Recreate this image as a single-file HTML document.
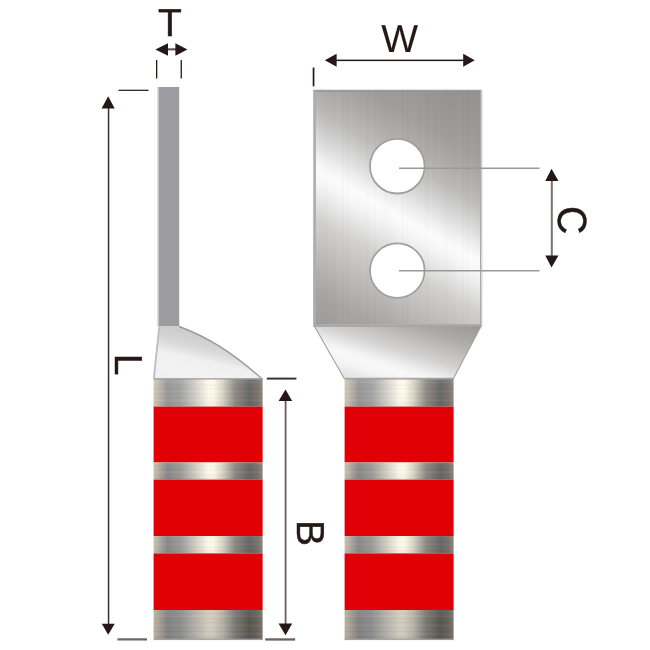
<!DOCTYPE html>
<html><head><meta charset="utf-8">
<style>
html,body{margin:0;padding:0;background:#fff;width:650px;height:650px;overflow:hidden}
svg{display:block}
text{font-family:"Liberation Sans",sans-serif;font-size:39px;fill:#231815;stroke:#231815;stroke-width:0.45px;-webkit-font-smoothing:antialiased;text-rendering:geometricPrecision}
svg{will-change:transform}
</style></head>
<body>
<svg width="650" height="650" viewBox="0 0 650 650">
<defs>
  <linearGradient id="metal" x1="0" y1="0" x2="1" y2="0">
    <stop offset="0.00" stop-color="#cfc6b4"/>
    <stop offset="0.03" stop-color="#c8c0b0"/>
    <stop offset="0.08" stop-color="#b0aaa6"/>
    <stop offset="0.13" stop-color="#9a9696"/>
    <stop offset="0.25" stop-color="#a4a4a4"/>
    <stop offset="0.38" stop-color="#d2cec6"/>
    <stop offset="0.50" stop-color="#fcf8ea"/>
    <stop offset="0.55" stop-color="#fcf8ea"/>
    <stop offset="0.63" stop-color="#dcd6c6"/>
    <stop offset="0.75" stop-color="#8e8b85"/>
    <stop offset="0.88" stop-color="#686868"/>
    <stop offset="0.95" stop-color="#7a7369"/>
    <stop offset="0.98" stop-color="#857f76"/>
    <stop offset="1.00" stop-color="#8c8882"/>
  </linearGradient>
  <linearGradient id="metal2" x1="0" y1="0" x2="1" y2="0">
    <stop offset="0.00" stop-color="#bab2a2"/>
    <stop offset="0.03" stop-color="#b0a99c"/>
    <stop offset="0.08" stop-color="#98948f"/>
    <stop offset="0.13" stop-color="#838282"/>
    <stop offset="0.25" stop-color="#8e8e8e"/>
    <stop offset="0.38" stop-color="#b4b0a8"/>
    <stop offset="0.50" stop-color="#d2cbbe"/>
    <stop offset="0.55" stop-color="#d0c9bc"/>
    <stop offset="0.63" stop-color="#b8b2a6"/>
    <stop offset="0.75" stop-color="#7a7872"/>
    <stop offset="0.88" stop-color="#575750"/>
    <stop offset="0.95" stop-color="#67625a"/>
    <stop offset="1.00" stop-color="#7a766e"/>
  </linearGradient>
  <linearGradient id="metal3" x1="0" y1="0" x2="1" y2="0">
    <stop offset="0.00" stop-color="#c8c0b0"/>
    <stop offset="0.03" stop-color="#bdb6a8"/>
    <stop offset="0.08" stop-color="#a09c98"/>
    <stop offset="0.13" stop-color="#8a8888"/>
    <stop offset="0.25" stop-color="#9d9b99"/>
    <stop offset="0.38" stop-color="#cfcbc2"/>
    <stop offset="0.50" stop-color="#fbf8e8"/>
    <stop offset="0.55" stop-color="#fbf8e8"/>
    <stop offset="0.63" stop-color="#dad4c4"/>
    <stop offset="0.75" stop-color="#8b8882"/>
    <stop offset="0.88" stop-color="#666666"/>
    <stop offset="0.95" stop-color="#777067"/>
    <stop offset="1.00" stop-color="#8a8680"/>
  </linearGradient>
  <linearGradient id="metalV" x1="0" y1="0" x2="0" y2="1">
    <stop offset="0" stop-color="#fff" stop-opacity="0.06"/>
    <stop offset="0.4" stop-color="#fff" stop-opacity="0"/>
    <stop offset="1" stop-color="#000" stop-opacity="0.04"/>
  </linearGradient>
  <linearGradient id="plate" gradientUnits="userSpaceOnUse" x1="471.3" y1="84.6" x2="327.7" y2="336.7">
    <stop offset="0.000" stop-color="#93918f"/>
    <stop offset="0.124" stop-color="#9a9896"/>
    <stop offset="0.203" stop-color="#a19f9d"/>
    <stop offset="0.276" stop-color="#adacab"/>
    <stop offset="0.348" stop-color="#bebdbc"/>
    <stop offset="0.438" stop-color="#e0e0e0"/>
    <stop offset="0.483" stop-color="#f2f2f2"/>
    <stop offset="0.517" stop-color="#fcfcfc"/>
    <stop offset="0.552" stop-color="#f7f7f7"/>
    <stop offset="0.590" stop-color="#ececec"/>
    <stop offset="0.672" stop-color="#d1d0cf"/>
    <stop offset="0.766" stop-color="#bebdbc"/>
    <stop offset="0.828" stop-color="#b1b0af"/>
    <stop offset="0.886" stop-color="#a7a5a3"/>
    <stop offset="1.000" stop-color="#9d9b99"/>
  </linearGradient>
  <linearGradient id="plateH" x1="0" y1="0" x2="1" y2="0">
    <stop offset="0" stop-color="#fff" stop-opacity="0.10"/>
    <stop offset="0.5" stop-color="#fff" stop-opacity="0"/>
    <stop offset="1" stop-color="#000" stop-opacity="0.04"/>
  </linearGradient>
  <linearGradient id="taper" gradientUnits="userSpaceOnUse" x1="480" y1="326" x2="451.4" y2="416.6">
    <stop offset="0.000" stop-color="#989694"/>
    <stop offset="0.065" stop-color="#a09e9c"/>
    <stop offset="0.215" stop-color="#acabaa"/>
    <stop offset="0.395" stop-color="#c6c5c4"/>
    <stop offset="0.490" stop-color="#d2d1d0"/>
    <stop offset="0.535" stop-color="#dadada"/>
    <stop offset="0.645" stop-color="#f1f1f1"/>
    <stop offset="0.710" stop-color="#f8f8f8"/>
    <stop offset="0.800" stop-color="#f4f4f4"/>
    <stop offset="0.890" stop-color="#e8e8e8"/>
    <stop offset="1.000" stop-color="#e1e1e1"/>
  </linearGradient>
  
  <linearGradient id="curve" gradientUnits="userSpaceOnUse" x1="180" y1="326" x2="167.5" y2="379.6">
    <stop offset="0.000" stop-color="#cacaca"/>
    <stop offset="0.220" stop-color="#d3d3d3"/>
    <stop offset="0.330" stop-color="#dadada"/>
    <stop offset="0.440" stop-color="#e6e6e6"/>
    <stop offset="0.510" stop-color="#efefef"/>
    <stop offset="0.600" stop-color="#f1f1f1"/>
    <stop offset="0.800" stop-color="#f2f2f2"/>
    <stop offset="1.000" stop-color="#f0f0f0"/>
  </linearGradient>
  <pattern id="vbrush" patternUnits="userSpaceOnUse" x="313.5" y="0" width="60" height="4">
    <rect x="0.00" y="0" width="0.92" height="4" fill="#000" opacity="0.012"/>
    <rect x="1.56" y="0" width="1.14" height="4" fill="#000" opacity="0.016"/>
    <rect x="5.02" y="0" width="0.81" height="4" fill="#fff" opacity="0.011"/>
    <rect x="6.47" y="0" width="0.69" height="4" fill="#000" opacity="0.017"/>
    <rect x="9.56" y="0" width="1.23" height="4" fill="#000" opacity="0.019"/>
    <rect x="12.44" y="0" width="1.0" height="4" fill="#000" opacity="0.026"/>
    <rect x="15.06" y="0" width="0.73" height="4" fill="#000" opacity="0.017"/>
    <rect x="17.43" y="0" width="1.16" height="4" fill="#000" opacity="0.021"/>
    <rect x="20.25" y="0" width="1.24" height="4" fill="#000" opacity="0.016"/>
    <rect x="23.12" y="0" width="1.22" height="4" fill="#fff" opacity="0.018"/>
    <rect x="26.39" y="0" width="1.07" height="4" fill="#fff" opacity="0.026"/>
    <rect x="28.56" y="0" width="1.39" height="4" fill="#000" opacity="0.022"/>
    <rect x="30.62" y="0" width="0.9" height="4" fill="#fff" opacity="0.018"/>
    <rect x="33.48" y="0" width="0.89" height="4" fill="#000" opacity="0.026"/>
    <rect x="35.89" y="0" width="0.76" height="4" fill="#fff" opacity="0.015"/>
    <rect x="37.99" y="0" width="1.56" height="4" fill="#fff" opacity="0.010"/>
    <rect x="40.73" y="0" width="0.95" height="4" fill="#fff" opacity="0.018"/>
    <rect x="42.32" y="0" width="0.69" height="4" fill="#000" opacity="0.014"/>
    <rect x="43.63" y="0" width="1.3" height="4" fill="#fff" opacity="0.020"/>
    <rect x="46.00" y="0" width="0.99" height="4" fill="#000" opacity="0.021"/>
    <rect x="49.37" y="0" width="0.96" height="4" fill="#fff" opacity="0.020"/>
    <rect x="50.95" y="0" width="1.37" height="4" fill="#000" opacity="0.011"/>
    <rect x="53.62" y="0" width="1.52" height="4" fill="#000" opacity="0.018"/>
    <rect x="56.54" y="0" width="1.15" height="4" fill="#fff" opacity="0.025"/>
    <rect x="59.91" y="0" width="0.88" height="4" fill="#fff" opacity="0.016"/>
  </pattern>
  <pattern id="brush" patternUnits="userSpaceOnUse" width="109" height="9">
    <rect x="0" y="1" width="109" height="1" fill="#000" opacity="0.035"/>
    <rect x="0" y="3.5" width="109" height="1.5" fill="#fff" opacity="0.04"/>
    <rect x="0" y="6.5" width="109" height="1" fill="#000" opacity="0.03"/>
  </pattern>
  <g id="bands">
    <rect x="0" y="378.4" width="109" height="28.2" fill="url(#metal)"/><rect x="0" y="378.4" width="109" height="28.2" fill="url(#metalV)"/><rect x="0" y="378.4" width="109" height="28.2" fill="url(#brush)"/>
    <rect x="0" y="406.6" width="109" height="55.9" fill="#e00006"/>
    <rect x="0" y="462.5" width="109" height="17.1" fill="url(#metal3)"/><rect x="0" y="462.5" width="109" height="17.1" fill="url(#metalV)"/><rect x="0" y="462.5" width="109" height="17.1" fill="url(#brush)"/>
    <rect x="0" y="479.6" width="109" height="56.4" fill="#e00006"/>
    <rect x="0" y="536" width="109" height="17.4" fill="url(#metal3)"/><rect x="0" y="536" width="109" height="17.4" fill="url(#metalV)"/><rect x="0" y="536" width="109" height="17.4" fill="url(#brush)"/>
    <rect x="0" y="553.4" width="109" height="56.6" fill="#e00006"/>
    <rect x="0" y="610" width="109" height="29.8" fill="url(#metal2)"/><rect x="0" y="610" width="109" height="29.8" fill="url(#metalV)"/><rect x="0" y="610" width="109" height="29.8" fill="url(#brush)"/>
    <rect x="0" y="378.0" width="109" height="1.6" fill="#a6a4a8" opacity="0.85"/>
    <rect x="0" y="638.6" width="109" height="1.5" fill="#a0a0a6" opacity="0.8"/>
  </g>
</defs>

<!-- ===== Side view (left) ===== -->
<rect x="157.3" y="87" width="1.6" height="239.5" fill="#cfcfd2"/>
<rect x="158.8" y="87" width="20.4" height="239.5" fill="#9c9ba0"/>
<path d="M159.4,326.5 L179.2,326.5 C208.8,337.6 232.2,352.5 261.5,378.4 L153.8,378.4 Z" fill="url(#curve)"/>
<path d="M179.2,326.5 C208.8,337.6 232.2,352.5 261.5,378.4" fill="none" stroke="#9a9a9a" stroke-width="1.4"/>
<path d="M159.2,326.5 L153.9,378.4" fill="none" stroke="#bdbdbd" stroke-width="1.8"/>
<use href="#bands" x="153.6"/>

<!-- ===== Front view (right) ===== -->
<rect x="313.5" y="88.9" width="168" height="1.4" fill="#e6e6e6"/>
<rect x="313.5" y="90.3" width="168" height="236" fill="url(#plate)"/>
<rect x="313.5" y="90.3" width="168" height="236" fill="url(#vbrush)"/>
<rect x="313.5" y="90.3" width="168" height="1.3" fill="#939090"/>
<rect x="313.3" y="90.3" width="2.6" height="236" fill="#adadad"/>
<rect x="480" y="90.3" width="1.5" height="236" fill="#a8a8a8"/>
<rect x="481.5" y="90.3" width="1.2" height="236" fill="#e2e2e2"/>
<rect x="313.5" y="324" width="168" height="2.3" fill="#adadad"/>
<polygon points="314.5,326.3 481,326.3 453.5,378.4 344.2,378.4" fill="url(#taper)" stroke="#a0a0a0" stroke-width="1.1"/>
<circle cx="397.3" cy="166.2" r="27.3" fill="#fff" stroke="#a0a0a0" stroke-width="1.8"/>
<circle cx="397.3" cy="270.6" r="27.3" fill="#fff" stroke="#a0a0a0" stroke-width="1.8"/>
<use href="#bands" x="344.6"/>

<!-- hole center lines -->
<line x1="399" y1="168.2" x2="539.5" y2="168.2" stroke="#9a9a9a" stroke-width="1.5"/>
<line x1="399" y1="270.7" x2="539.5" y2="270.7" stroke="#9a9a9a" stroke-width="1.5"/>

<!-- ===== Dimensions ===== -->
<g fill="#231815" stroke="none">
  <!-- T -->
  <text x="170" y="36.2" text-anchor="middle">T</text>
  <rect x="166" y="48.3" width="11" height="2.1" fill="#5e5452"/>
  <polygon points="155.4,49.5 168,43.2 168,55.8"/>
  <polygon points="187.4,49.5 175.4,43.2 175.4,55.8"/>
  <rect x="156" y="60" width="1.3" height="18.5"/>
  <rect x="180.6" y="60" width="1.3" height="18.5"/>

  <!-- W -->
  <text x="399.6" y="52.3" text-anchor="middle" style="stroke-width:0.1px">W</text>
  <rect x="335" y="59.6" width="130" height="1.5"/>
  <polygon points="324.8,60.3 336.6,53.8 336.6,66.7"/>
  <polygon points="474.7,60.3 463.2,53.8 463.2,66.7"/>
  <rect x="312.7" y="67.5" width="1.7" height="18.8"/>

  <!-- L -->
  <rect x="107.8" y="105" width="1.5" height="522" fill="#3a2f2c"/>
  <polygon points="108.2,96.2 101.6,108.5 114.7,108.5"/>
  <polygon points="108.2,634.8 101.8,623.7 114.7,623.7"/>
  <rect x="118.5" y="89.7" width="30" height="1.2"/>
  <rect x="117.5" y="638.3" width="29.5" height="2.2" fill="#6b6361"/>
  <text x="129.15" y="378.35" text-anchor="middle" transform="rotate(90 129.15 364.5)">L</text>

  <!-- B -->
  <rect x="284.7" y="398" width="1.8" height="230" fill="#6a605e"/>
  <polygon points="285.5,389.6 278.6,400.9 292.2,400.9"/>
  <polygon points="285.5,635.3 278.6,623.5 292.2,623.5"/>
  <rect x="266.8" y="377.6" width="29.6" height="2" fill="#3d3331"/>
  <rect x="265.2" y="638.3" width="29.9" height="2.3" fill="#6b6361"/>
  <text x="310.9" y="546.9" text-anchor="middle" transform="rotate(90 310.9 533.05)">B</text>

  <!-- C -->
  <rect x="550.8" y="178" width="2" height="80" fill="#7a7270"/>
  <polygon points="551.5,168.8 545.3,181 558.5,181"/>
  <polygon points="551.5,267.6 545.3,255.4 558.5,255.4"/>
  <text x="572.95" y="234" text-anchor="middle" transform="rotate(90 572.95 220.15) translate(572.95 220.15) scale(1 1.045) translate(-572.95 -220.15)">C</text>
</g>
</svg>
</body></html>
